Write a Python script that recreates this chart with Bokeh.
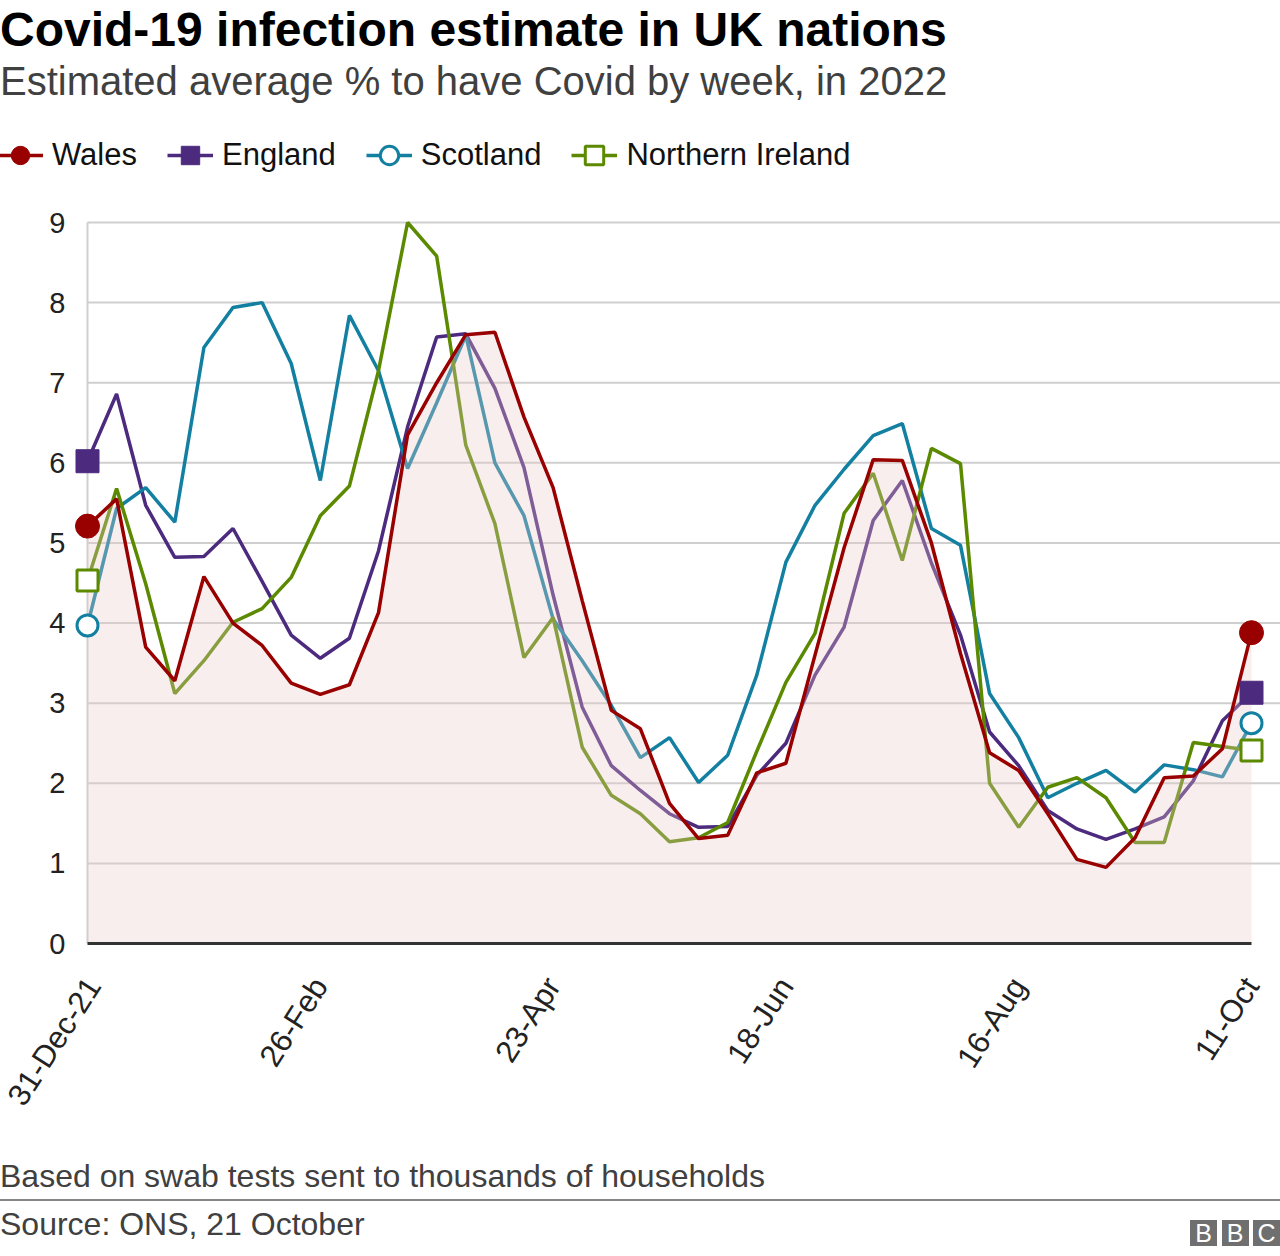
from bokeh.plotting import figure
from bokeh.models import Range1d, Legend, LegendItem, FixedTicker, Div
from bokeh.layouts import column
from bokeh.embed import file_html
from bokeh.resources import INLINE

# ---------------- data ----------------
week_index = list(range(41))
tick_positions = [0, 8, 16, 24, 32, 40]
tick_labels = ["31-Dec-21", "26-Feb", "23-Apr", "18-Jun", "16-Aug", "11-Oct"]
y_ticks = [0, 1, 2, 3, 4, 5, 6, 7, 8, 9]

wales = [5.21, 5.55, 3.70, 3.28, 4.58, 4.00, 3.72, 3.25, 3.11, 3.23,
         4.13, 6.35, 7.00, 7.60, 7.63, 6.57, 5.69, 4.28, 2.91, 2.68,
         1.75, 1.31, 1.35, 2.13, 2.25, 3.60, 4.94, 6.04, 6.03, 5.00,
         3.62, 2.38, 2.16, 1.62, 1.05, 0.95, 1.32, 2.07, 2.09, 2.43, 3.88]
england = [6.02, 6.86, 5.47, 4.82, 4.83, 5.18, 4.52, 3.85, 3.56, 3.81,
           4.90, 6.45, 7.57, 7.61, 6.93, 5.94, 4.35, 2.95, 2.22, 1.91,
           1.62, 1.45, 1.46, 2.10, 2.50, 3.35, 3.95, 5.28, 5.78, 4.75,
           3.85, 2.64, 2.22, 1.66, 1.43, 1.30, 1.43, 1.58, 2.03, 2.78, 3.13]
scotland = [3.97, 5.43, 5.69, 5.26, 7.44, 7.94, 8.00, 7.24, 5.78, 7.84,
            7.15, 5.93, 6.75, 7.59, 6.00, 5.34, 4.05, 3.53, 2.97, 2.32,
            2.57, 2.01, 2.35, 3.35, 4.76, 5.47, 5.92, 6.34, 6.49, 5.18,
            4.97, 3.12, 2.57, 1.82, 2.00, 2.16, 1.89, 2.23, 2.17, 2.08, 2.75]
northern_ireland = [4.53, 5.68, 4.49, 3.12, 3.53, 4.01, 4.18, 4.57, 5.34, 5.71,
                    7.15, 9.00, 8.58, 6.22, 5.24, 3.57, 4.07, 2.45, 1.85, 1.62,
                    1.27, 1.32, 1.51, 2.40, 3.26, 3.87, 5.37, 5.87, 4.78, 6.18,
                    5.99, 2.00, 1.45, 1.95, 2.07, 1.82, 1.26, 1.26, 2.51, 2.46, 2.41]

title_text = "Covid-19 infection estimate in UK nations"
subtitle_text = "Estimated average % to have Covid by week, in 2022"
note_text = "Based on swab tests sent to thousands of households"
source_text = "Source: ONS, 21 October"
logo_letters = ["B", "B", "C"]

FONT_NAME = "Liberation Sans"
C_WALES = "#990000"
C_ENG = "#4c2a7e"
C_SCO = "#1380a1"
C_NI = "#5b8a00"
LW = 3.5

# ---------------- header (HTML) ----------------
header_html = (
    f'<div style="position:relative;width:1280px;height:120px;font-family:\'{FONT_NAME}\';">'
    f'<div style="position:absolute;left:0;top:6px;font-size:48px;line-height:48px;'
    f'font-weight:bold;color:#000;white-space:nowrap;">{title_text}</div>'
    f'<div style="position:absolute;left:0;top:61px;font-size:40px;line-height:40px;'
    f'color:#404040;white-space:nowrap;">{subtitle_text}</div>'
    '</div>'
)
header = Div(text=header_html, width=1280, height=120, margin=0)

# ---------------- main chart ----------------
# frame spans the full width; y axis is drawn at a fixed location inside it
PAGE_TOP = 120      # page y where the chart figure starts
FRAME_TOP = 120     # page y of frame top
FRAME_BOTTOM = 968  # page y of frame bottom
FIG_H = 1030
ppx = (1251 - 87) / 40.0
ppy = (943 - 222) / 9.0
x0 = -87 / ppx
x1 = 40 + (1280 - 1251) / ppx
y0 = -(FRAME_BOTTOM - 943) / ppy
y1 = 9 + (222 - FRAME_TOP) / ppy
axis_x = -(87 - 72) / ppx

p = figure(width=1280, height=FIG_H, x_range=Range1d(x0, x1), y_range=Range1d(y0, y1),
           output_backend="svg", toolbar_location=None,
           min_border_left=0, min_border_right=0, min_border_top=FRAME_TOP - PAGE_TOP,
           min_border_bottom=PAGE_TOP + FIG_H - FRAME_BOTTOM)
p.outline_line_color = None
p.xgrid.visible = False
p.ygrid.visible = False

# grid lines
grid_vals = y_ticks[1:]
p.segment(x0=[0] * len(grid_vals), y0=grid_vals, x1=[x1] * len(grid_vals), y1=grid_vals,
          line_color="#cfcfcf", line_width=2)
p.segment(x0=[0], y0=[0], x1=[0], y1=[y_ticks[-1]], line_color="#cfcfcf", line_width=2)

# lines
r_eng = p.line(week_index, england, line_color=C_ENG, line_width=LW)
r_sco = p.line(week_index, scotland, line_color=C_SCO, line_width=LW)
r_ni = p.line(week_index, northern_ireland, line_color=C_NI, line_width=LW)

# pink shaded area under Wales
p.varea(x=week_index, y1=[0] * len(week_index), y2=wales, fill_color="#ebcaca", fill_alpha=0.32)

# baseline
p.segment(x0=[0], y0=[0], x1=[week_index[-1]], y1=[0], line_color="#333333", line_width=3)

r_wal = p.line(week_index, wales, line_color=C_WALES, line_width=LW)

ends = [week_index[0], week_index[-1]]
m_wal = p.scatter(ends, [wales[0], wales[-1]], marker="circle", size=24,
                  fill_color=C_WALES, line_color=C_WALES)
m_eng = p.scatter(ends, [england[0], england[-1]], marker="square", size=23,
                  fill_color=C_ENG, line_color=C_ENG)
m_sco = p.scatter(ends, [scotland[0], scotland[-1]], marker="circle", size=21,
                  fill_color="white", line_color=C_SCO, line_width=3)
m_ni = p.scatter(ends, [northern_ireland[0], northern_ireland[-1]], marker="square", size=21,
                 fill_color="white", line_color=C_NI, line_width=3)

# axes
p.yaxis.fixed_location = axis_x
p.yaxis.ticker = FixedTicker(ticks=y_ticks)
p.yaxis.axis_line_color = None
p.yaxis.major_tick_line_color = None
p.yaxis.minor_tick_line_color = None
p.yaxis.major_tick_in = 0
p.yaxis.major_tick_out = 0
p.yaxis.major_label_standoff = 7
p.yaxis.major_label_text_font = FONT_NAME
p.yaxis.major_label_text_font_size = "29px"
p.yaxis.major_label_text_color = "#222222"

p.xaxis.ticker = FixedTicker(ticks=tick_positions)
p.xaxis.major_label_overrides = {t: l for t, l in zip(tick_positions, tick_labels)}
p.xaxis.axis_line_color = None
p.xaxis.major_tick_line_color = None
p.xaxis.minor_tick_line_color = None
p.xaxis.major_tick_in = 0
p.xaxis.major_tick_out = 0
p.xaxis.major_label_standoff = 980 - FRAME_BOTTOM
p.xaxis.major_label_orientation = 1.0
p.xaxis.major_label_text_font = FONT_NAME
p.xaxis.major_label_text_font_size = "31px"
p.xaxis.major_label_text_color = "#222222"

LEG_H = 46
legend = Legend(items=[
    LegendItem(label="Wales", renderers=[r_wal, m_wal]),
    LegendItem(label="England", renderers=[r_eng, m_eng]),
    LegendItem(label="Scotland", renderers=[r_sco, m_sco]),
    LegendItem(label="Northern Ireland", renderers=[r_ni, m_ni]),
], orientation="horizontal", location=(-3, FRAME_BOTTOM - (155 + LEG_H // 2)),
    glyph_width=46, glyph_height=LEG_H,
    label_standoff=9, spacing=30, padding=0, margin=0, border_line_color=None,
    background_fill_alpha=0, label_text_font=FONT_NAME, label_text_font_size="31px",
    label_text_color="#111111")
p.add_layout(legend)

# ---------------- footer (HTML) ----------------
logo_spans = "".join(
    f'<div style="position:absolute;top:70px;left:{1190 + i * 31.5}px;width:27px;height:26px;'
    f'background:#6f6f6f;color:#fff;font-size:25px;line-height:26px;text-align:center;">{ch}</div>'
    for i, ch in enumerate(logo_letters)
)
footer_html = (
    f'<div style="position:relative;width:1280px;height:106px;font-family:\'{FONT_NAME}\';">'
    f'<div style="position:absolute;left:0;top:10px;font-size:32px;line-height:32px;'
    f'color:#404040;white-space:nowrap;">{note_text}</div>'
    '<div style="position:absolute;left:0;top:49px;width:1280px;height:2px;background:#858585;"></div>'
    f'<div style="position:absolute;left:0;top:58px;font-size:32px;line-height:32px;'
    f'color:#404040;white-space:nowrap;">{source_text}</div>'
    f'{logo_spans}</div>'
)
footer = Div(text=footer_html, width=1280, height=106, margin=0)

layout = column(header, p, footer, spacing=0)
open("out.html", "w").write(file_html(layout, INLINE))
